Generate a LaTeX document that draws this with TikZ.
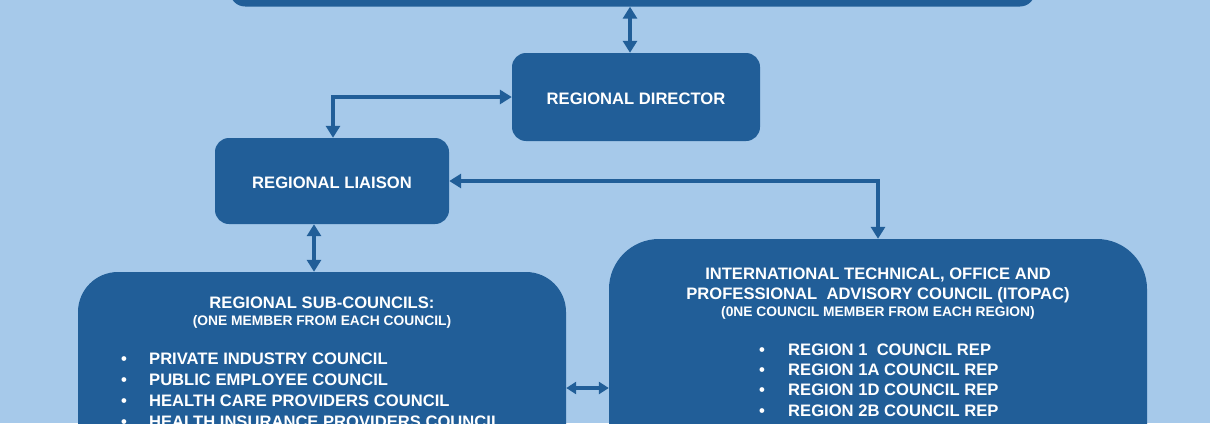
\documentclass[tikz,border=0pt]{standalone}
\usepackage{fontspec}
\setmainfont{Liberation Sans}
\usetikzlibrary{arrows.meta,calc}
\definecolor{bgc}{RGB}{166,201,234}
\definecolor{boxc}{RGB}{33,94,152}
\begin{document}
\begin{tikzpicture}[x=1pt,y=-1pt,
  box/.style={fill=boxc, draw=none, rounded corners=#1, inner sep=0pt},
  box/.default=15pt,
  lbl/.style={text=white, font=\bfseries\fontsize{16.6}{20.6}\selectfont, inner sep=0pt},
  subl/.style={text=white, font=\bfseries\fontsize{13.8}{16}\selectfont, inner sep=0pt},
  link/.style={draw=boxc, line width=4pt, {Triangle[width=14pt,length=12pt]}-{Triangle[width=14pt,length=12pt]}},
  slink/.style={draw=boxc, line width=4pt, {Triangle[width=12pt,length=10pt]}-{Triangle[width=12pt,length=10pt]}},
]
\fill[bgc] (0,0) rectangle (1210,423);
\useasboundingbox (0,0) rectangle (1210,423);
\clip (0,0) rectangle (1210,423);

% boxes
\node[box=15pt, minimum width=805pt, minimum height=80pt] (top) at (632.5,-33.5) {};
\node[box=14pt, minimum width=248pt, minimum height=88pt] (dir) at (636,97) {};
\node[box=14pt, minimum width=234pt, minimum height=86pt] (lia) at (332,181) {};
\node[box=40pt, minimum width=488pt, minimum height=300pt] (sub) at (322,422) {};
\node[box=50pt, minimum width=538pt, minimum height=340pt] (ito) at (878,409) {};

% box texts
\node[lbl, yshift=-1.5pt] (dirt) at (dir) {REGIONAL DIRECTOR};
\node[lbl, yshift=-1.5pt] (liat) at (lia) {REGIONAL LIAISON};

\node[lbl, anchor=base] (subt) at (322,308) {REGIONAL SUB-COUNCILS:};
\node[subl, anchor=base] (subs) at (322,325) {(ONE MEMBER FROM EACH COUNCIL)};
\node[lbl, anchor=base west, font=\bfseries\fontsize{16.6}{21}\selectfont] (subi) at (121,364) {\begin{tabular}[t]{@{}p{28pt}@{}l@{}}
\textbullet & PRIVATE INDUSTRY COUNCIL\\
\textbullet & PUBLIC EMPLOYEE COUNCIL\\
\textbullet & HEALTH CARE PROVIDERS COUNCIL\\
\textbullet & HEALTH INSURANCE PROVIDERS COUNCIL
\end{tabular}};

\node[lbl, anchor=base] (itot1) at (878,279) {INTERNATIONAL TECHNICAL, OFFICE AND};
\node[lbl, anchor=base] (itot2) at (878,299) {PROFESSIONAL\ \ ADVISORY COUNCIL (ITOPAC)};
\node[subl, anchor=base] (itos) at (878,316) {(0NE COUNCIL MEMBER FROM EACH REGION)};
\node[lbl, anchor=base west, font=\bfseries\fontsize{16.6}{20.4}\selectfont] (itoi) at (759,355) {\begin{tabular}[t]{@{}p{29pt}@{}l@{}}
\textbullet & REGION 1\ \ COUNCIL REP\\
\textbullet & REGION 1A COUNCIL REP\\
\textbullet & REGION 1D COUNCIL REP\\
\textbullet & REGION 2B COUNCIL REP
\end{tabular}};

% connectors
\draw[link] ([xshift=-6pt]dir.north) -- ([xshift=-6pt]dir.north |- top.south);
\draw[link] (dir.west) -| ([xshift=1pt]lia.north);
\draw[link] (lia.east) -| (ito.north);
\draw[link] ([xshift=-18pt]lia.south) -- ([xshift=-18pt]lia.south |- sub.north);
\coordinate (mid) at (587.5,388);
\draw[slink] (mid -| sub.east) -- (mid -| ito.west);
\end{tikzpicture}
\end{document}
